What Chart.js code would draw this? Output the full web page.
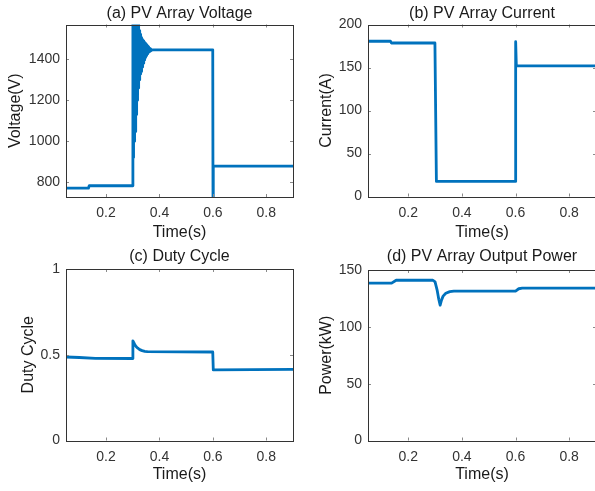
<!DOCTYPE html>
<html><head><meta charset="utf-8">
<script src="https://cdn.jsdelivr.net/npm/chart.js@4.4.1/dist/chart.umd.min.js"></script>
<style>
html,body{margin:0;padding:0;background:#fff;overflow:hidden;}
#wrap{position:relative;width:595px;height:491px;overflow:hidden;background:#fff;}
canvas{position:absolute;}
</style></head><body>
<div id="wrap">
<canvas id="cA" width="300" height="245" style="left:0;top:0;width:300px;height:245px"></canvas>
<canvas id="cB" width="300" height="245" style="left:300px;top:0;width:300px;height:245px"></canvas>
<canvas id="cC" width="300" height="246" style="left:0;top:245px;width:300px;height:246px"></canvas>
<canvas id="cD" width="300" height="246" style="left:300px;top:245px;width:300px;height:246px"></canvas>
</div>
<script>
// ---- tick labels ----
const timeTicks = [0.2, 0.4, 0.6, 0.8];
const voltTicks = [800, 1000, 1200, 1400];
const currTicks = [0, 50, 100, 150, 200];
const dutyTicks = [0, 0.5, 1];
const powerTicks = [0, 50, 100, 150];

// ---- (a) PV array voltage (V) ----
const voltTime = [0.05, 0.134, 0.137, 0.2998,
  0.3005, 0.301, 0.302, 0.303, 0.304, 0.305, 0.306, 0.307, 0.308, 0.309,
  0.310, 0.311, 0.312, 0.313, 0.314, 0.315, 0.316, 0.317, 0.318, 0.319,
  0.320, 0.321, 0.322, 0.323, 0.324, 0.325, 0.326, 0.327, 0.328, 0.329,
  0.330, 0.331, 0.332, 0.333, 0.334, 0.335, 0.336, 0.337, 0.338, 0.339,
  0.340, 0.341, 0.342, 0.343, 0.344, 0.345, 0.346, 0.347, 0.348, 0.349,
  0.350, 0.351, 0.352, 0.353, 0.354, 0.355, 0.356, 0.357, 0.358, 0.359,
  0.360, 0.361, 0.362, 0.363, 0.364, 0.365, 0.366, 0.367, 0.368, 0.369, 0.370,
  0.372, 0.5995, 0.6005, 0.6015, 0.9];
const voltValues = [770, 770, 782, 782,
  1650, 920, 1650, 965, 1650, 1000, 1650, 1020, 1650, 1047,
  1650, 1090, 1650, 1130, 1650, 1168, 1650, 1200, 1640, 1235,
  1575, 1260, 1560, 1280, 1540, 1300, 1530, 1315, 1522, 1328,
  1512, 1340, 1506, 1352, 1500, 1362, 1496, 1372, 1493, 1381,
  1490, 1390, 1486, 1397, 1482, 1403, 1478, 1409, 1475, 1414,
  1472, 1418, 1468, 1423, 1465, 1427, 1462, 1431, 1460, 1434,
  1458, 1437, 1455, 1439, 1453, 1441, 1451, 1443, 1449, 1444, 1447,
  1446, 1446, 700, 878, 878];

// ---- (b) PV array current (A) ----
const currTime = [0.05, 0.134, 0.137, 0.2995, 0.305, 0.5995, 0.6005, 0.603, 0.9];
const currValues = [180.5, 180.5, 178.5, 178.5, 17.5, 17.5, 180, 152, 152];

// ---- (c) duty cycle ----
const dutyTime = [0.05, 0.10, 0.16, 0.2995, 0.3005, 0.304, 0.308, 0.313, 0.319, 0.326, 0.335, 0.345, 0.355, 0.5995, 0.6015, 0.9];
const dutyValues = [0.487, 0.484, 0.479, 0.478, 0.581, 0.570, 0.558, 0.547, 0.538, 0.530, 0.524, 0.520, 0.518, 0.516, 0.412, 0.415];

// ---- (d) PV array output power (kW) ----
const powerTime = [0.05, 0.138, 0.155, 0.292, 0.300, 0.308, 0.314, 0.319, 0.324, 0.330, 0.340, 0.355, 0.370, 0.600, 0.612, 0.625, 0.9];
const powerValues = [138.5, 138.5, 141, 141, 139.5, 132, 124, 119, 123.5, 127, 129.5, 131, 131.5, 131.5, 133.5, 134, 134];

const FONT = '"Liberation Sans", Arial, Helvetica, sans-serif';
const LINE = '#0072BD';

const boxPlugin = {
  id: 'matlabBox',
  afterDraw(chart) {
    const {ctx, chartArea: a, scales: {x, y}} = chart;
    ctx.save();
    ctx.lineWidth = 1;
    ctx.strokeStyle = '#8a8a8a';
    ctx.beginPath();
    x.ticks.forEach(t => {
      const p = Math.round(x.getPixelForValue(t.value)) + 0.5;
      ctx.moveTo(p, a.bottom); ctx.lineTo(p, a.bottom - 3);
      ctx.moveTo(p, a.top); ctx.lineTo(p, a.top + 3);
    });
    y.ticks.forEach(t => {
      const p = Math.round(y.getPixelForValue(t.value)) + 0.5;
      ctx.moveTo(a.left, p); ctx.lineTo(a.left + 3, p);
      ctx.moveTo(a.right, p); ctx.lineTo(a.right - 3, p);
    });
    ctx.stroke();
    ctx.strokeStyle = '#333333';
    ctx.strokeRect(Math.round(a.left) + 0.5, Math.round(a.top) + 0.5,
      Math.round(a.right) - Math.round(a.left), Math.round(a.bottom) - Math.round(a.top));
    ctx.restore();
  }
};

function toPoints(ts, vs) { return ts.map((t, i) => ({x: t, y: vs[i]})); }

function panel(id, g) {
  const tickFont = {family: FONT, size: 14};
  const labFont = {family: FONT, size: 16};
  new Chart(document.getElementById(id), {
    type: 'line',
    data: {datasets: [{
      data: toPoints(g.t, g.v),
      borderColor: LINE, borderWidth: 2.8, pointRadius: 0,
      fill: false, tension: 0, borderJoinStyle: 'round'
    }]},
    options: {
      responsive: false, animation: false, devicePixelRatio: 1,
      layout: {padding: {left: g.padL, right: g.padR, top: 0, bottom: g.padB}},
      plugins: {
        legend: {display: false}, tooltip: {enabled: false},
        title: {display: true, text: g.title, fullSize: false, color: '#1a1a1a',
          font: {family: FONT, size: 16, weight: 'normal'},
          padding: {top: g.tPadT, bottom: g.tPadB}}
      },
      scales: {
        x: {
          type: 'linear', min: 0.05, max: 0.9,
          afterBuildTicks: s => { s.ticks = timeTicks.map(v => ({value: v})); },
          afterFit: s => { s.height = g.xH; },
          grid: {display: false, drawTicks: false}, border: {display: false},
          ticks: {autoSkip: false, maxRotation: 0, padding: 8, font: tickFont, color: '#333',
            callback: v => String(v)},
          title: {display: true, text: 'Time(s)', font: labFont, color: '#1a1a1a', padding: 0}
        },
        y: {
          type: 'linear', min: g.ymin, max: g.ymax,
          afterBuildTicks: s => { s.ticks = g.yt.map(v => ({value: v})); },
          afterFit: s => { s.width = g.yW; },
          grid: {display: false, drawTicks: false}, border: {display: false},
          ticks: {autoSkip: false, padding: 6, font: tickFont, color: '#333',
            callback: v => String(v)},
          title: {display: true, text: g.ylab, font: labFont, color: '#1a1a1a', padding: 0}
        }
      }
    },
    plugins: [boxPlugin]
  });
}

panel('cA', {title: '(a) PV Array Voltage', ylab: 'Voltage(V)', t: voltTime, v: voltValues,
  ymin: 727, ymax: 1570, yt: voltTicks,
  padL: 5.7, yW: 60.3, padR: 7, padB: 2.4, xH: 45.6, tPadT: 4.1, tPadB: 1.2});
panel('cB', {title: '(b) PV Array Current', ylab: 'Current(A)', t: currTime, v: currValues,
  ymin: 0, ymax: 200, yt: currTicks,
  padL: 17.1, yW: 50.9, padR: 4, padB: 2.4, xH: 46.1, tPadT: 4.1, tPadB: 1.2});
panel('cC', {title: '(c) Duty Cycle', ylab: 'Duty Cycle', t: dutyTime, v: dutyValues,
  ymin: 0, ymax: 1, yt: dutyTicks,
  padL: 18.7, yW: 47.3, padR: 7, padB: 6.4, xH: 44.1, tPadT: 2.4, tPadB: 2.4});
panel('cD', {title: '(d) PV Array Output Power', ylab: 'Power(kW)', t: powerTime, v: powerValues,
  ymin: 0, ymax: 150, yt: powerTicks,
  padL: 17.1, yW: 50.9, padR: 4, padB: 6.4, xH: 44.1, tPadT: 2.4, tPadB: 3.4});
</script>
</body></html>
